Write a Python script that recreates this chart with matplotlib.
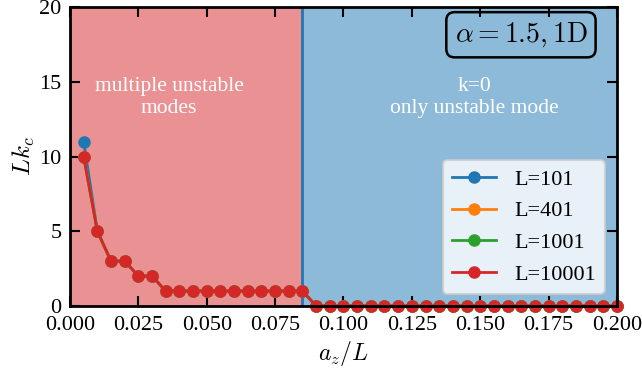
import numpy as np
import matplotlib
matplotlib.use("Agg")
import matplotlib.pyplot as plt

plt.rcParams['font.family'] = ['Liberation Serif', 'DejaVu Serif']
plt.rcParams['mathtext.fontset'] = 'cm'

x = [0.005, 0.010, 0.015, 0.020, 0.025, 0.030, 0.035, 0.040, 0.045, 0.050,
     0.055, 0.060, 0.065, 0.070, 0.075, 0.080, 0.085, 0.090, 0.095, 0.100,
     0.105, 0.110, 0.115, 0.120, 0.125, 0.130, 0.135, 0.140, 0.145, 0.150,
     0.155, 0.160, 0.165, 0.170, 0.175, 0.180, 0.185, 0.190, 0.195, 0.200]
y_L101 = [11, 5, 3, 3, 2, 2, 1, 1, 1, 1, 1, 1, 1, 1, 1, 1, 1,
          0, 0, 0, 0, 0, 0, 0, 0, 0, 0, 0, 0, 0, 0, 0, 0, 0, 0, 0, 0, 0, 0, 0]
y_L401 = [10, 5, 3, 3, 2, 2, 1, 1, 1, 1, 1, 1, 1, 1, 1, 1, 1,
          0, 0, 0, 0, 0, 0, 0, 0, 0, 0, 0, 0, 0, 0, 0, 0, 0, 0, 0, 0, 0, 0, 0]
y_L1001 = [10, 5, 3, 3, 2, 2, 1, 1, 1, 1, 1, 1, 1, 1, 1, 1, 1,
           0, 0, 0, 0, 0, 0, 0, 0, 0, 0, 0, 0, 0, 0, 0, 0, 0, 0, 0, 0, 0, 0, 0]
y_L10001 = [10, 5, 3, 3, 2, 2, 1, 1, 1, 1, 1, 1, 1, 1, 1, 1, 1,
            0, 0, 0, 0, 0, 0, 0, 0, 0, 0, 0, 0, 0, 0, 0, 0, 0, 0, 0, 0, 0, 0, 0]
labels = ['L=101', 'L=401', 'L=1001', 'L=10001']
series = [y_L101, y_L401, y_L1001, y_L10001]
colors = ['#1f77b4', '#ff7f0e', '#2ca02c', '#d62728']
x_split = 0.085

fig = plt.figure(figsize=(6.42, 3.74), dpi=100)
ax = fig.add_axes([0.109, 0.182, 0.852, 0.799])
ax.axvspan(0, x_split, color='#d62728', alpha=0.5, lw=0)
ax.axvspan(x_split, 0.2, color='#1f77b4', alpha=0.5, lw=0)
ax.axvline(x_split, color='#1f77b4', lw=2)
for ys, lab, c in zip(series, labels, colors):
    ax.plot(x, ys, '-o', color=c, label=lab, lw=2, ms=8, clip_on=False, zorder=3)

ax.set_xlim(0, 0.2)
ax.set_ylim(0, 20)
ax.set_xticks(np.arange(0, 0.2001, 0.025))
ax.set_yticks([0, 5, 10, 15, 20])
ax.tick_params(direction='in', top=True, right=True, length=7, width=1.5, labelsize=16)
ax.tick_params(axis='x', pad=7)
ax.tick_params(axis='y', pad=6)
for s in ax.spines.values():
    s.set_linewidth(2)
    s.set_zorder(5)
ax.set_xlabel(r'$a_z/L$', fontsize=17, labelpad=3)
ax.set_ylabel(r'$Lk_c$', fontsize=18, labelpad=2)

ax.text(0.0362, 13.95, 'multiple unstable\nmodes', color='white', ha='center', va='center', fontsize=15.5, linespacing=1.25)
ax.text(0.148, 13.95, 'k=0\nonly unstable mode', color='white', ha='center', va='center', fontsize=15.5, linespacing=1.25)
ax.text(0.1649, 18.15, r'$\alpha = 1.5, 1\mathrm{D}$', ha='center', va='center', fontsize=20,
        bbox=dict(boxstyle='round,pad=0.3', fc='none', ec='black', lw=1.8))

leg = ax.legend(loc='lower right', fontsize=16, frameon=True, borderaxespad=0.55,
                handlelength=2, labelspacing=0.5)
leg.get_frame().set_facecolor('white')
leg.get_frame().set_alpha(0.8)
leg.get_frame().set_edgecolor('#cccccc')
leg.get_frame().set_linewidth(1.5)

fig.savefig('out.png', dpi=100)
